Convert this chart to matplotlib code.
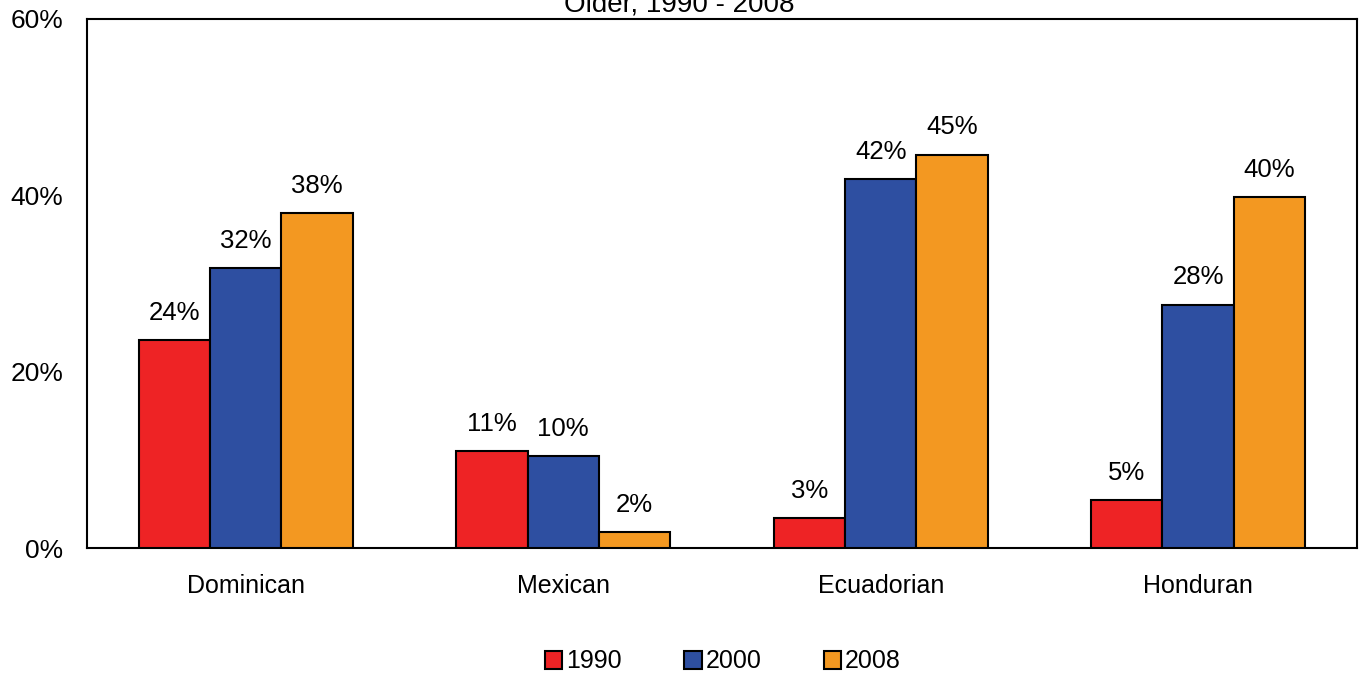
import numpy as np
import matplotlib
matplotlib.use('Agg')
import matplotlib.pyplot as plt
from matplotlib.ticker import FuncFormatter

# data
groups = ['Dominican', 'Mexican', 'Ecuadorian', 'Honduran']
years = ['1990', '2000', '2008']
pct_1990 = [23.6, 11.0, 3.4, 5.4]
pct_2000 = [31.7, 10.4, 41.8, 27.6]
pct_2008 = [38.0, 1.8, 44.6, 39.8]
colors = ['#EE2325', '#2E4FA1', '#F39821']

plt.rcParams['font.family'] = ['Liberation Sans', 'DejaVu Sans']

fig = plt.figure(figsize=(13.59, 6.75), dpi=100)
ax = fig.add_axes([0.064, 0.188, 0.9345, 0.7841])

x = np.arange(len(groups))
w = 0.225
series = [pct_1990, pct_2000, pct_2008]
for i, (vals, yr, c) in enumerate(zip(series, years, colors)):
    bars = ax.bar(x + (i - 1) * w, vals, w, color=c, edgecolor='black',
                  linewidth=1.5, label=yr, zorder=3)
    for b, v in zip(bars, vals):
        ax.annotate(f'{v:.0f}%', (b.get_x() + b.get_width() / 2, v),
                    xytext=(0, 11), textcoords='offset points',
                    ha='center', va='bottom', fontsize=18.5)

ax.set_xlim(-0.5, 3.5)
ax.set_ylim(0, 60)
ax.set_yticks([0, 20, 40, 60])
ax.yaxis.set_major_formatter(FuncFormatter(lambda v, p: f'{v:.0f}%'))
ax.set_xticks(x)
ax.set_xticklabels(groups)
ax.tick_params(axis='both', length=0)
ax.tick_params(axis='y', pad=17, labelsize=19)
ax.tick_params(axis='x', pad=19, labelsize=18)
for s in ax.spines.values():
    s.set_linewidth(1.5)

fig.text(0.5, 0.9837, 'Older, 1990 - 2008', ha='center', va='baseline',
         fontsize=20)

fig.legend(loc='center', bbox_to_anchor=(0.532, 0.02), ncol=3,
           frameon=False, fontsize=18, handlelength=0.7, handleheight=0.7,
           handletextpad=0.15, columnspacing=2.5)

fig.savefig('out.png', dpi=100)
